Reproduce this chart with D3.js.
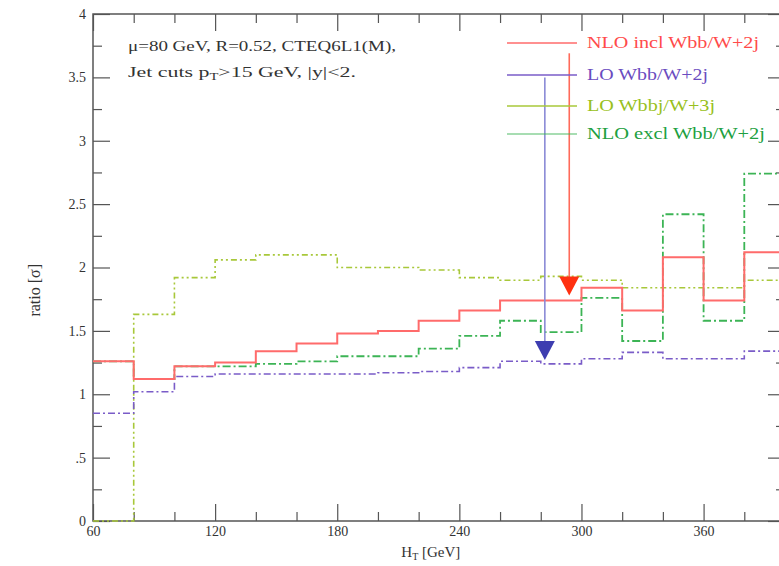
<!DOCTYPE html>
<html lang="en">
<head>
<meta charset="UTF-8">
<title>Ratio vs H_T</title>
<script src="https://d3js.org/d3.v7.min.js"></script>
<style>
  body { margin: 0; background: #fff; }
  svg { display: block; }
  .tick text { font-family: "Liberation Serif", serif; font-size: 14px; fill: #333; }
  .tick line { stroke: #555; stroke-width: 1.2; }
  .domain { display: none; }
</style>
</head>
<body>
<div id="chart"></div>
<script>
// bin left edges (GeV), each bin is 20 GeV wide
const binEdges = [60, 80, 100, 120, 140, 160, 180, 200, 220, 240, 260, 280, 300, 320, 340, 360, 380];
const binEnd = 400;

const nloIncl = [1.26, 1.12, 1.22, 1.25, 1.34, 1.40, 1.48, 1.50, 1.58, 1.66, 1.74, 1.74, 1.84, 1.66, 2.08, 1.74, 2.12];
const loWbb   = [0.85, 1.02, 1.14, 1.16, 1.16, 1.16, 1.16, 1.17, 1.18, 1.21, 1.26, 1.24, 1.28, 1.33, 1.28, 1.28, 1.34];
const loWbbj  = [0, 1.63, 1.92, 2.06, 2.10, 2.10, 2.00, 2.00, 1.98, 1.92, 1.90, 1.93, 1.90, 1.84, 1.84, 1.84, 1.90];
const nloExcl = [1.26, 1.12, 1.22, 1.22, 1.24, 1.26, 1.30, 1.30, 1.36, 1.46, 1.58, 1.49, 1.76, 1.42, 2.42, 1.58, 2.74];

const xMajor = [60, 120, 180, 240, 300, 360];
const yMajor = [0, 0.5, 1, 1.5, 2, 2.5, 3, 3.5, 4];
const yLabels = ["0", ".5", "1", "1.5", "2", "2.5", "3", "3.5", "4"];

// arrows: position in H_T, top and tip in ratio units
const arrows = [
  { ht: 282, top: 3.5, tip: 1.27, line: "#8a8ad6", head: "#3d3db0" },
  { ht: 294, top: 3.69, tip: 1.78, line: "#ff6a5a", head: "#ff3010" }
];

const series = [
  { name: "NLO incl Wbb/W+2j", values: nloIncl, color: "#ff6b6b", legendColor: "#ff4a4a", dash: null, w: 2 },
  { name: "LO Wbb/W+2j", values: loWbb, color: "#7a5cc8", legendColor: "#6a4cc0", dash: "7,3,2,3", w: 1.6 },
  { name: "LO Wbbj/W+3j", values: loWbbj, color: "#a8c83a", legendColor: "#98bf20", dash: "6,3,2,3,2,3", w: 1.6 },
  { name: "NLO excl Wbb/W+2j", values: nloExcl, color: "#3cb455", legendColor: "#20a040", dash: "8,3,2,3", w: 1.8 }
];

const W = 779, H = 566;
const margin = { top: 14, left: 93, bottom: 45 };
const plotW = 692, plotH = H - margin.top - margin.bottom;

const svg = d3.select("#chart").append("svg").attr("width", W).attr("height", H);
const g = svg.append("g").attr("transform", `translate(${margin.left},${margin.top})`);

const x = d3.scaleLinear().domain([60, 400]).range([0, plotW]);
const y = d3.scaleLinear().domain([0, 4]).range([plotH, 0]);

const xMinor = d3.range(60, 401, 20).filter(v => !xMajor.includes(v));
const yMinor = d3.range(0.25, 4, 0.5);

// axes with inward ticks on all four sides
g.append("g").attr("transform", `translate(0,${plotH})`)
  .call(d3.axisBottom(x).tickValues(xMajor).tickSize(-17).tickSizeOuter(0).tickPadding(5).tickFormat(d3.format("d")));
g.append("g").attr("transform", `translate(0,${plotH})`)
  .call(d3.axisBottom(x).tickValues(xMinor).tickSize(-9).tickSizeOuter(0).tickFormat(""));
g.append("g")
  .call(d3.axisTop(x).tickValues(xMajor).tickSize(-17).tickSizeOuter(0).tickFormat(""));
g.append("g")
  .call(d3.axisTop(x).tickValues(xMinor).tickSize(-9).tickSizeOuter(0).tickFormat(""));

g.append("g")
  .call(d3.axisLeft(y).tickValues(yMajor).tickSize(-17).tickSizeOuter(0).tickPadding(7).tickFormat((d, i) => yLabels[i]));
g.append("g")
  .call(d3.axisLeft(y).tickValues(yMinor).tickSize(-9).tickSizeOuter(0).tickFormat(""));
g.append("g").attr("transform", `translate(${plotW},0)`)
  .call(d3.axisRight(y).tickValues(yMajor).tickSize(-17).tickSizeOuter(0).tickFormat(""));
g.append("g").attr("transform", `translate(${plotW},0)`)
  .call(d3.axisRight(y).tickValues(yMinor).tickSize(-9).tickSizeOuter(0).tickFormat(""));

// frame
g.append("rect").attr("width", plotW).attr("height", plotH)
  .attr("fill", "none").attr("stroke", "#555").attr("stroke-width", 1.5);

// histograms
const step = d3.line().x(d => x(d[0])).y(d => y(d[1])).curve(d3.curveStepAfter);
series.slice().reverse().forEach(s => {
  const pts = binEdges.map((e, i) => [e, s.values[i]]);
  pts.push([binEnd, s.values[s.values.length - 1]]);
  g.append("path").datum(pts)
    .attr("d", step)
    .attr("fill", "none")
    .attr("stroke", s.color)
    .attr("stroke-width", s.w)
    .attr("stroke-dasharray", s.dash);
});

// arrows
arrows.forEach(a => {
  const ax = x(a.ht), tipY = y(a.tip);
  g.append("line")
    .attr("x1", ax).attr("x2", ax)
    .attr("y1", y(a.top)).attr("y2", tipY - 10)
    .attr("stroke", a.line).attr("stroke-width", 1.6);
  g.append("path")
    .attr("d", `M${ax - 10},${tipY - 19} L${ax + 10},${tipY - 19} L${ax},${tipY} Z`)
    .attr("fill", a.head);
});

// legend
const legend = svg.append("g").attr("font-family", "Liberation Serif, serif").attr("font-size", 16);
const legendRows = [43, 75, 106, 134];
const legendWidths = [172, 121, 128, 178];
series.forEach((s, i) => {
  legend.append("line")
    .attr("x1", 507).attr("x2", 577)
    .attr("y1", legendRows[i]).attr("y2", legendRows[i])
    .attr("stroke", s.color).attr("stroke-width", 1.5).attr("opacity", i === 3 ? 0.6 : 1);
  legend.append("text")
    .attr("x", 587).attr("y", legendRows[i] + 5)
    .attr("fill", s.legendColor)
    .attr("textLength", legendWidths[i]).attr("lengthAdjust", "spacingAndGlyphs")
    .text(s.name);
});

// annotation text
const note = svg.append("g").attr("font-family", "Liberation Serif, serif").attr("font-size", 15).attr("fill", "#333");
note.append("text").attr("x", 128).attr("y", 51)
  .attr("textLength", 268).attr("lengthAdjust", "spacingAndGlyphs")
  .text("μ=80 GeV, R=0.52, CTEQ6L1(M),");
const t2 = note.append("text").attr("x", 128).attr("y", 77)
  .attr("textLength", 228).attr("lengthAdjust", "spacingAndGlyphs");
t2.append("tspan").text("Jet cuts p");
t2.append("tspan").attr("font-size", 10).attr("dy", 3).text("T");
t2.append("tspan").attr("dy", -3).text(">15 GeV, |y|<2.");

// axis titles
const xt = svg.append("text")
  .attr("x", margin.left + x(226)).attr("y", 557)
  .attr("text-anchor", "middle")
  .attr("font-family", "Liberation Serif, serif").attr("font-size", 15).attr("fill", "#333");
xt.append("tspan").text("H");
xt.append("tspan").attr("font-size", 10).attr("dy", 3).text("T");
xt.append("tspan").attr("dy", -3).text(" [GeV]");

svg.append("text")
  .attr("transform", `translate(40,${margin.top + y(1.82)}) rotate(-90)`)
  .attr("text-anchor", "middle")
  .attr("font-family", "Liberation Serif, serif").attr("font-size", 16).attr("fill", "#333")
  .text("ratio [σ]");
</script>
</body>
</html>
